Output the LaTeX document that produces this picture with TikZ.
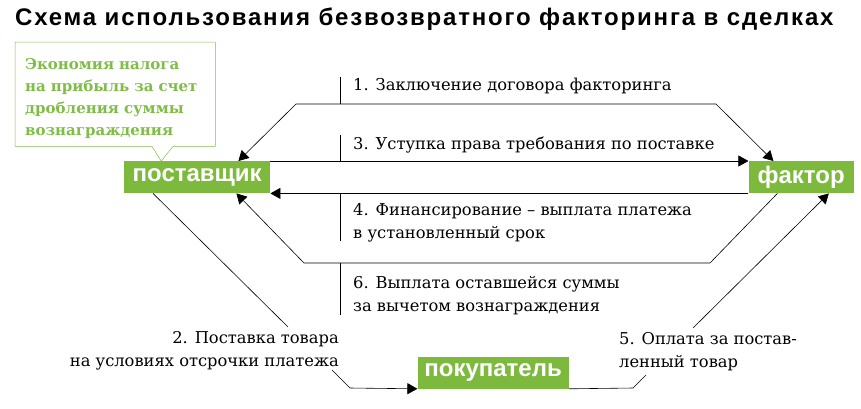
\documentclass[tikz,border=0pt]{standalone}
\usepackage{fontspec}
\setmainfont{DejaVu Serif}
\newfontfamily\grotesk{Liberation Sans}
\newfontfamily\headfont[LetterSpace=7.5]{Liberation Sans}
\usepackage{tikz}
\usetikzlibrary{arrows.meta}
\usetikzlibrary{positioning}
\definecolor{facgreen}{RGB}{125,185,60}
\definecolor{notegreen}{RGB}{128,189,72}
\tikzstyle{agent} = [fill=facgreen, 
text=white, 
inner sep=0pt, 
minimum height=32pt, 
font=\grotesk\bfseries\fontsize{24}{24}\selectfont]
\tikzstyle{line} = [draw, 
line width=0.6pt, 
-{Triangle[length=10pt,width=11pt]}]
\tikzstyle{tick} = [draw, line width=0.6pt]
\tikzstyle{lbl} = [inner sep=0pt, font=\fontsize{16.3}{22.5}\selectfont]

\begin{document}
\begin{tikzpicture}[x=1pt, y=-1pt,
	notebox/.style={draw=notegreen, line width=0.5pt}]
	\useasboundingbox (0,0) rectangle (861,408);
	\node [anchor=base west, inner sep=0pt, font=\headfont\bfseries\fontsize{24}{24}\selectfont] (title) at (15,25) {Схема использования безвозвратного факторинга в сделках};
	%% Participants
	\node [agent, minimum width=146pt, anchor=north west] (sup) at (124,161) {поставщик};
	\node [agent, minimum width=105pt, right=478pt of sup] (fac) {фактор};
	\node [agent, minimum width=151pt, below right=163pt and 147pt of sup] (buy) {покупатель};
	%% Note
	\node [anchor=north west, minimum width=195pt, minimum height=104pt, inner xsep=10pt, text width=180pt, align=left,
		text=notegreen, font=\bfseries\fontsize{15}{22}\selectfont] (note) at (15,42)
		{\rule{0pt}{20pt}Экономия налога\\на прибыль за счет\\дробления суммы\\вознаграждения};
	\draw [notebox] ([xshift=137pt]note.south west) -- (note.south west) -- (note.north west) -- (note.north east) -- (note.south east) -- ([xshift=158pt]note.south west) -- ([xshift=-36pt]sup.north) -- cycle;
	\fill [white] ([xshift=137.5pt,yshift=0.4pt]note.south west) -- ([xshift=157.5pt,yshift=0.4pt]note.south west) -- ([xshift=147.5pt,yshift=-0.6pt]note.south west) -- cycle;
	%% Bend points
	\coordinate (c1l) at (296,104);
	\coordinate (c1r) at (716,104);
	\coordinate (c6l) at (304,263);
	\coordinate (c6r) at (710,263);
	\coordinate (c2a) at (288,327);
	\coordinate (c2b) at (332,370);
	\coordinate (c2c) at (350,388);
	\coordinate (c5a) at (633,388);
	\coordinate (c5b) at (646,375);
	\coordinate (c5c) at (693,328);
	%% Flows
	\path [line, {Triangle[length=10pt,width=11pt]}-{Triangle[length=10pt,width=11pt]}] ([xshift=-32pt]sup.north east) -- (c1l) -- (c1r) -- ([xshift=25pt]fac.north west);
	\path [line] (sup.north east) -- (fac.north west);
	\path [line] (fac.south west) -- (sup.south east);
	\path [line] ([xshift=29pt]fac.south west) -- (c6r) -- (c6l) -- ([xshift=-34pt]sup.south east);
	\path [tick] ([xshift=29pt]sup.south west) -- (c2a);
	\path [line] (c2b) -- (c2c) -- (buy.south west);
	\path [tick] (buy.south east) -- (c5a) -- (c5b);
	\path [line] (c5c) -- ([xshift=-25pt]fac.south east);
	%% Ticks
	\path [tick] (340,77) -- (340,104);
	\path [tick] (340,135) -- (340,161);
	\path [tick] (340,193) -- (340,241);
	\path [tick] (340,263) -- (340,315);
	%% Labels
	\node [lbl, anchor=base west] (l1) at (353,90) {1. Заключение договора факторинга};
	\node [lbl, anchor=base west] (l3) at (353,149) {3. Уступка права требования по поставке};
	\node [lbl, anchor=base west, align=left] (l4) at (353,238) {4. Финансирование – выплата платежа\\в установленный срок};
	\node [lbl, anchor=base west, align=left] (l6) at (353,311) {6. Выплата оставшейся суммы\\за вычетом вознаграждения};
	\node [lbl, anchor=base east, align=right] (l2) at (339,366) {2. Поставка товара\\на условиях отсрочки платежа};
	\node [lbl, anchor=base west, align=left] (l5) at (619,367) {5. Оплата за постав-\\ленный товар};
\end{tikzpicture}
\end{document}
